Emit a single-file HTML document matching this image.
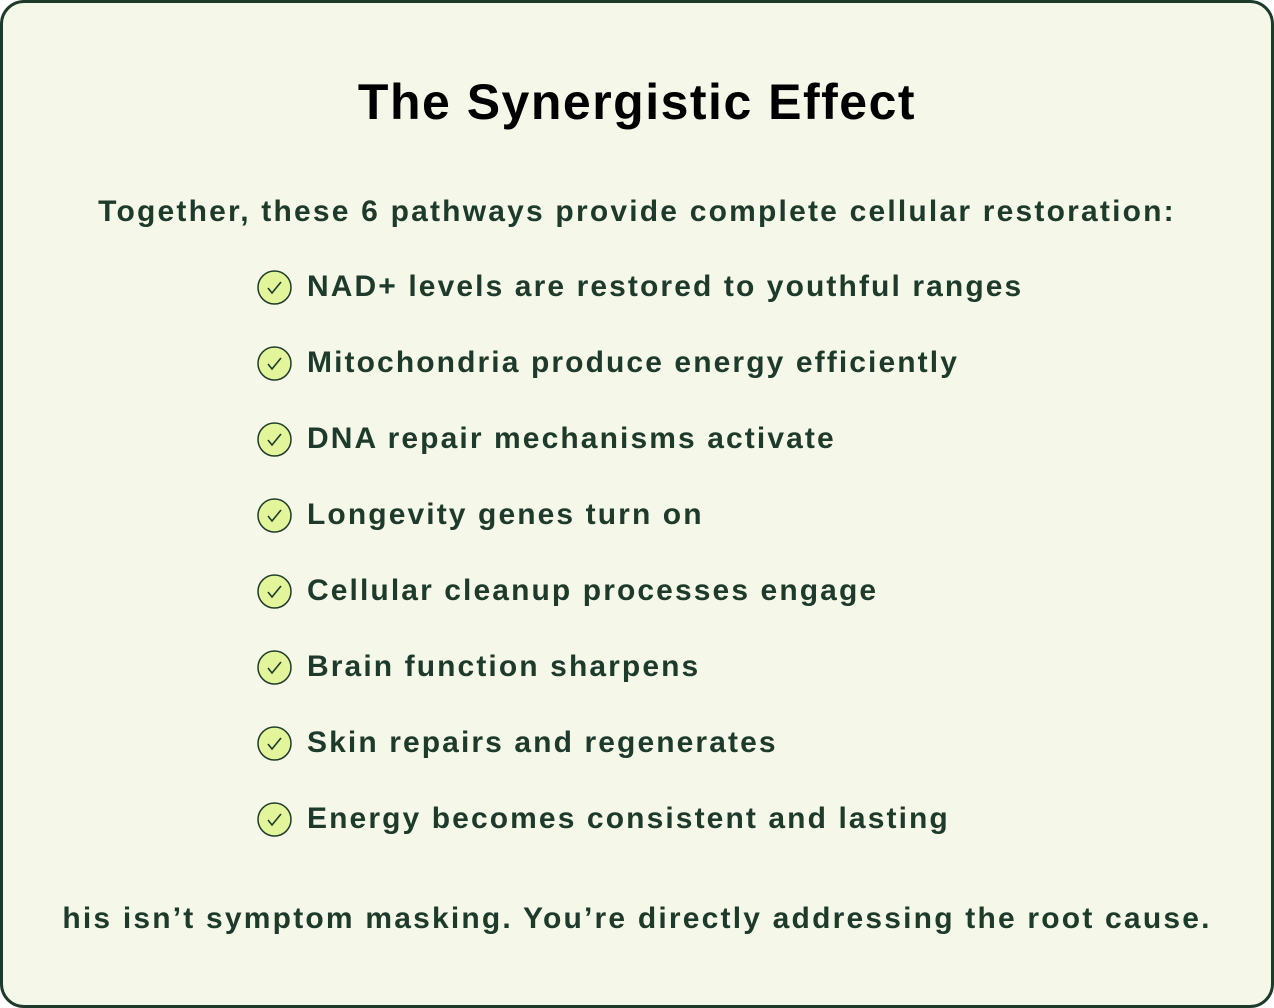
<!DOCTYPE html>
<html><head><style>
body{margin:0;width:1274px;height:1008px;background:#fff;font-family:"Liberation Sans",sans-serif;}
.box{position:absolute;left:0;top:0;width:1268px;height:1002px;border:3px solid #1d3a2b;border-radius:24px;background:#f5f8e8;}
.t{position:absolute;left:0;width:1274px;text-align:center;font-weight:bold;white-space:nowrap;letter-spacing:2.2px;}
.item{position:absolute;left:257px;height:36px;display:flex;align-items:center;font-weight:bold;font-size:30px;color:#1d3a2b;white-space:nowrap;letter-spacing:2.1px;}
.item svg{margin-right:15px;}
</style></head><body>
<div class="box"></div>
<div class="t" style="top:72px;font-size:50px;color:#000;line-height:60px;letter-spacing:1.5px;">The Synergistic Effect</div>
<div class="t" style="top:193px;font-size:30px;color:#1d3a2b;line-height:38px;">Together, these 6 pathways provide complete cellular restoration:</div>
<div class="item" style="top:269px"><svg width="35" height="35" viewBox="0 0 35 35"><circle cx="17.5" cy="17.5" r="16.5" fill="#e3f59a" stroke="#1d3a2b" stroke-width="1.5"/><path d="M11 18l4 5 9-11" fill="none" stroke="#1d3a2b" stroke-width="1.6"/></svg>NAD+ levels are restored to youthful ranges</div>
<div class="item" style="top:345px"><svg width="35" height="35" viewBox="0 0 35 35"><circle cx="17.5" cy="17.5" r="16.5" fill="#e3f59a" stroke="#1d3a2b" stroke-width="1.5"/><path d="M11 18l4 5 9-11" fill="none" stroke="#1d3a2b" stroke-width="1.6"/></svg>Mitochondria produce energy efficiently</div>
<div class="item" style="top:421px"><svg width="35" height="35" viewBox="0 0 35 35"><circle cx="17.5" cy="17.5" r="16.5" fill="#e3f59a" stroke="#1d3a2b" stroke-width="1.5"/><path d="M11 18l4 5 9-11" fill="none" stroke="#1d3a2b" stroke-width="1.6"/></svg>DNA repair mechanisms activate</div>
<div class="item" style="top:497px"><svg width="35" height="35" viewBox="0 0 35 35"><circle cx="17.5" cy="17.5" r="16.5" fill="#e3f59a" stroke="#1d3a2b" stroke-width="1.5"/><path d="M11 18l4 5 9-11" fill="none" stroke="#1d3a2b" stroke-width="1.6"/></svg>Longevity genes turn on</div>
<div class="item" style="top:573px"><svg width="35" height="35" viewBox="0 0 35 35"><circle cx="17.5" cy="17.5" r="16.5" fill="#e3f59a" stroke="#1d3a2b" stroke-width="1.5"/><path d="M11 18l4 5 9-11" fill="none" stroke="#1d3a2b" stroke-width="1.6"/></svg>Cellular cleanup processes engage</div>
<div class="item" style="top:649px"><svg width="35" height="35" viewBox="0 0 35 35"><circle cx="17.5" cy="17.5" r="16.5" fill="#e3f59a" stroke="#1d3a2b" stroke-width="1.5"/><path d="M11 18l4 5 9-11" fill="none" stroke="#1d3a2b" stroke-width="1.6"/></svg>Brain function sharpens</div>
<div class="item" style="top:725px"><svg width="35" height="35" viewBox="0 0 35 35"><circle cx="17.5" cy="17.5" r="16.5" fill="#e3f59a" stroke="#1d3a2b" stroke-width="1.5"/><path d="M11 18l4 5 9-11" fill="none" stroke="#1d3a2b" stroke-width="1.6"/></svg>Skin repairs and regenerates</div>
<div class="item" style="top:801px"><svg width="35" height="35" viewBox="0 0 35 35"><circle cx="17.5" cy="17.5" r="16.5" fill="#e3f59a" stroke="#1d3a2b" stroke-width="1.5"/><path d="M11 18l4 5 9-11" fill="none" stroke="#1d3a2b" stroke-width="1.6"/></svg>Energy becomes consistent and lasting</div>
<div class="t" style="top:900px;font-size:30px;color:#1d3a2b;line-height:38px;">his isn’t symptom masking. You’re directly addressing the root cause.</div>
</body></html>
